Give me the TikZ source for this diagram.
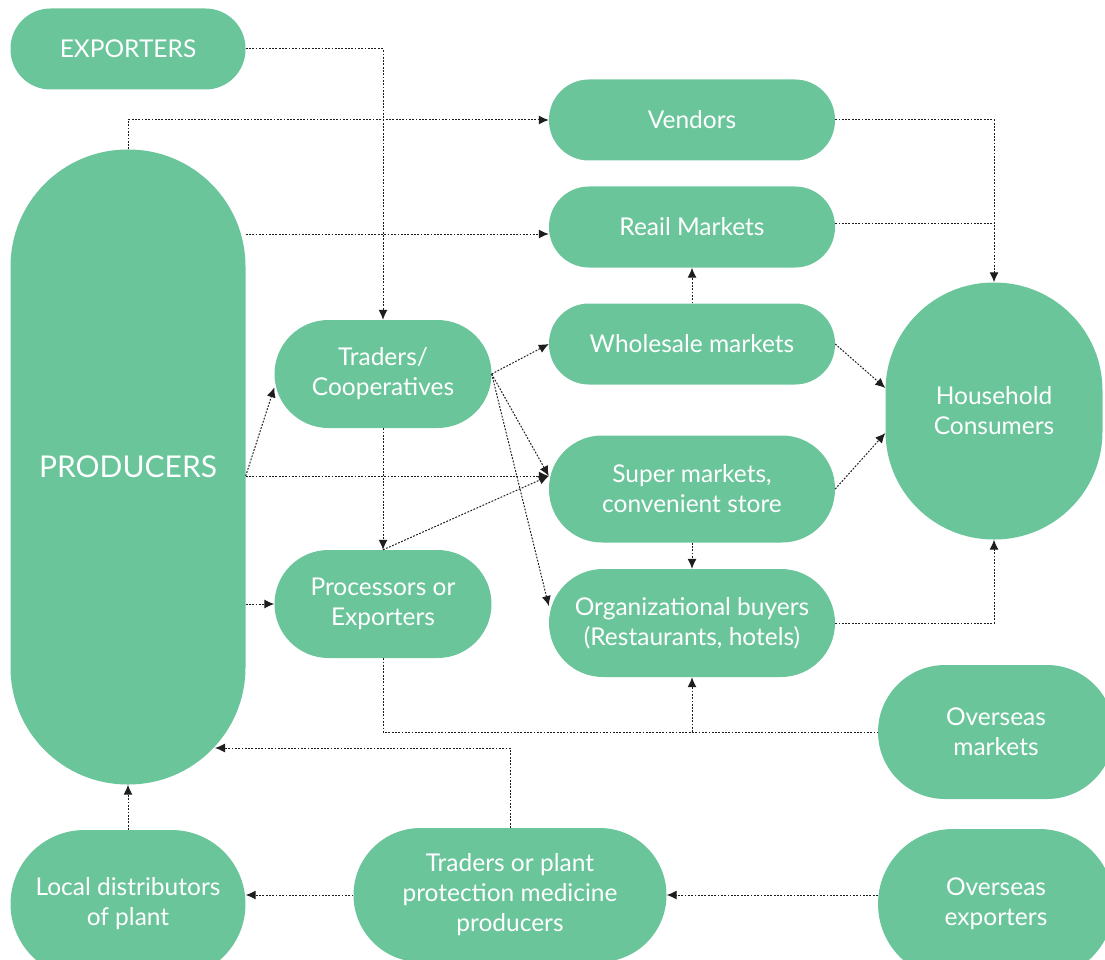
\documentclass[tikz,border=0pt]{standalone}
\usepackage{fontspec}
\setmainfont{Lato}
\usepackage{tikz}
\usetikzlibrary{arrows.meta}
\usetikzlibrary{calc}
\usetikzlibrary{positioning}

\definecolor{leaf}{RGB}{107,197,155}
\definecolor{ink}{RGB}{30,30,30}

\tikzset{
  blob/.style n args={3}{fill=leaf, text=white, draw=none, inner sep=0pt,
    minimum width=#1, minimum height=#2, rounded corners=#3,
    align=center, font=\fontsize{24.5}{30}\selectfont},
  link/.style={->, draw=ink, line width=1pt, dash pattern=on 1.8pt off 1.5pt},
  plain/.style={draw=ink, line width=1pt, dash pattern=on 1.8pt off 1.5pt}
}

\begin{document}
\begin{tikzpicture}[x=1pt, y=-1pt, >={Latex[length=10pt,width=9pt]}]
   \useasboundingbox (0,0) rectangle (1105,960);

   % left column
   \node[blob={235}{81}{40}] (exporters) at (128,49) {EXPORTERS};
   \node[blob={235}{635}{117}, font=\fontsize{30}{36}\selectfont] (producers) at (128,467) {PRODUCERS};
   \node[blob={235}{148}{74}] (localdist) at (128,904) {Local distributors\\of plant};

   % middle column
   \node[blob={217}{108}{54}] (traders) at (383,374) {Traders/\\Cooperatives};
   \node[blob={217}{108}{54}] (processors) at (383,604) {Processors or\\Exporters};
   \node[blob={313}{134}{67}] (tradersplant) at (510,895) {Traders or plant\\protection medicine\\producers};

   % markets
   \foreach \nm/\yy/\txt in
     {vendors/120/Vendors, retail/227/Reail Markets, wholesale/344/Wholesale markets}
     {
       \node[blob={286}{81}{40}] (\nm) at (692,\yy) {\txt};
     }
   \node[blob={286}{107}{53}] (supermarkets) at (692,489) {Super markets,\\convenient store};
   \node[blob={286}{108}{54}] (orgbuyers) at (692,623) {Organizational buyers\\(Restaurants, hotels)};

   % right column
   \node[blob={217}{257}{108}] (household) at (994,411) {Household\\Consumers};
   \node[blob={236}{134}{67}] (overseasm) at (996,732) {Overseas\\markets};
   \node[blob={236}{150}{75}] (overseasx) at (996,904) {Overseas\\exporters};

   \coordinate (pin) at (215,748);

   % flows out of producers
   \draw[link] (exporters.east) -| (traders.north);
   \draw[link] (producers.north) |- (vendors.west);
   \draw[link] (producers.east |- 0,234) -- (retail.west |- 0,234);
   \draw[link] (producers.east |- 0,476) -- (traders.187);
   \draw[link] (producers.east |- 0,476) -- (supermarkets.west |- 0,476);
   \draw[link] (producers.east |- processors.west) -- (processors.west);

   % flows out of traders
   \draw[link] (traders.east) -- (wholesale.west);
   \draw[link] (traders.east) -- (supermarkets.west |- 0,476);
   \draw[link] (traders.east) -- (orgbuyers.west |- 0,606);
   \draw[link] (traders.south) -- (processors.north);
   \draw[link] (processors.north) -- (supermarkets.west |- 0,476);

   % between markets
   \draw[link] (wholesale.north) -- (retail.south);
   \draw[link] (supermarkets.south) -- (orgbuyers.north);

   % to household consumers
   \draw[link] (vendors.east) -| (household.north);
   \draw[plain] (retail.east |- 0,223) -- (household.north |- 0,223);
   \draw[link] (wholesale.east) -- (household.west |- 0,388);
   \draw[link] (supermarkets.east) -- (household.west |- 0,433);
   \draw[link] (orgbuyers.east) -| (household.south);

   % overseas
   \draw[plain] (processors.south) |- (overseasm.west);
   \draw[link] (orgbuyers.south |- overseasm.west) -- (orgbuyers.south);

   % inputs
   \draw[link] (tradersplant.north) |- (pin);
   \draw[link] (localdist.north) -- (producers.south);
   \draw[link] (tradersplant.west) -- (localdist.east |- tradersplant.west);
   \draw[link] (overseasx.west |- tradersplant.east) -- (tradersplant.east);
\end{tikzpicture}
\end{document}
